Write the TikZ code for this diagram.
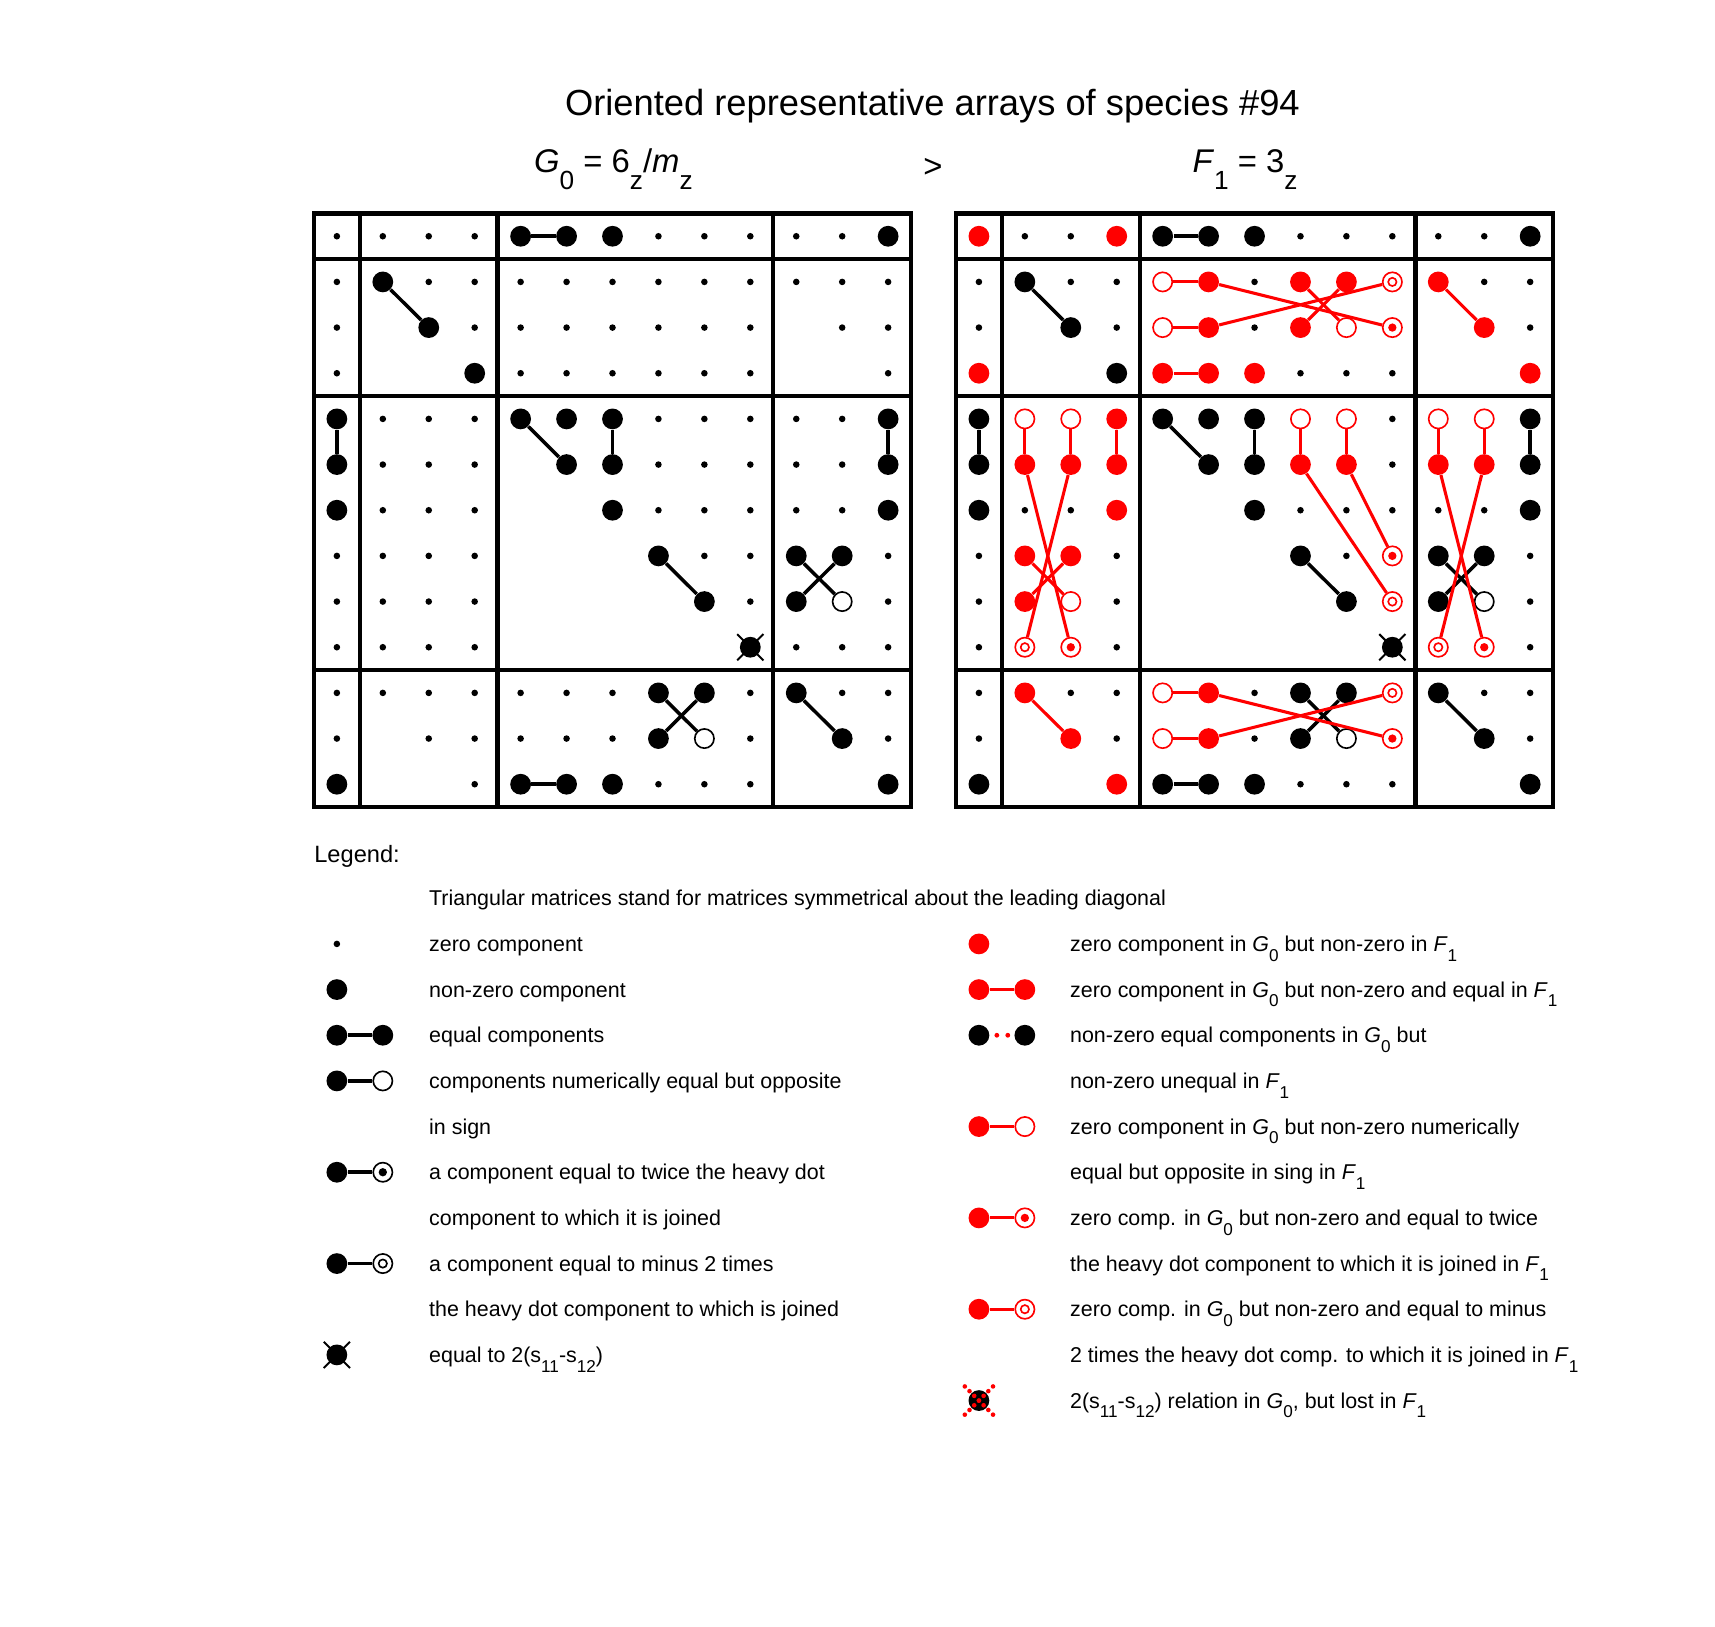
\documentclass[tikz,border=0pt]{standalone}
\usepackage{fontspec}
\setmainfont{Liberation Sans}
\usepackage{tikz}

\newcommand{\lo}[1]{\raisebox{-0.45em}{\scalebox{0.8}{#1}}}
\newcommand{\lob}[1]{\raisebox{-0.5em}{\scalebox{0.8}{#1}}}
\newcommand{\titlefont}{\fontsize{16.6}{20}\selectfont}
\newcommand{\subfont}{\fontsize{15}{18}\selectfont}
\newcommand{\keyfont}{\fontsize{9.8}{12}\selectfont}
\newcommand{\headfont}{\fontsize{10.8}{13}\selectfont}
\newcommand{\xmark}[1]{\draw[line width=0.9pt] ([shift={(-6pt,-6pt)}]#1.center) -- ([shift={(6pt,6pt)}]#1.center)
  ([shift={(-6pt,6pt)}]#1.center) -- ([shift={(6pt,-6pt)}]#1.center);}

\tikzset{
  zero/.style={circle, fill, inner sep=0pt, minimum size=3pt},
  nz/.style={circle, fill, inner sep=0pt, minimum size=9.5pt},
  nzred/.style={nz, fill=red},
  opp/.style={circle, draw=#1, fill=white, line width=0.75pt, inner sep=0pt, minimum size=8.8pt},
  opp/.default=black,
  twice/.style={opp=#1, path picture={\fill[#1] (path picture bounding box.center) circle (1.9pt);}},
  twice/.default=black,
  minustwo/.style={opp=#1, path picture={\draw[#1, line width=0.75pt] (path picture bounding box.center) circle (1.9pt);}},
  minustwo/.default=black,
  link/.style={line width=1.6pt},
  linkred/.style={line width=1.4pt, red},
  linkdot/.style={red, line width=2.2pt, line cap=round, dash pattern=on 0pt off 5pt, shorten <=3.25pt, shorten >=2.5pt},
  gridline/.style={line width=2pt},
  cells/.style={shift={(#1,216)}, x=21pt, y=-20.875pt},
  txt/.style={inner sep=0pt, anchor=base west, font=\keyfont},
}

\begin{document}
\begin{tikzpicture}[x=0.5pt, y=-0.5pt]
\useasboundingbox (0,0) rectangle (1568,1487);

\node[txt, anchor=base, font=\titlefont] (title) at (852.5,106) {Oriented representative arrays of species \#94};
\node[txt, font=\subfont] (g0) at (488,158) {\textit{G}\lob{0} = 6\lob{z}/\textit{m}\lob{z}};
\node[txt, anchor=base, font=\subfont] (gt) at (853,162) {>};
\node[txt, font=\subfont] (f1) at (1090,158) {\textit{F}\lob{1} = 3\lob{z}};

\foreach \m/\x in {L/308, R/895} {
  \begin{scope}[cells=\x]
    \draw[gridline] (-0.5,-0.5) rectangle (12.5,12.5);
    \foreach \k in {0.5,3.5,9.5} {
      \draw[gridline] (\k,-0.5) -- (\k,12.5);
      \draw[gridline] (-0.5,\k) -- (12.5,\k);
    }
    \foreach \r/\cs in {0/{4,5,6,12}, 1/{1}, 2/{2}, 3/{3}, 4/{0,4,5,6,12}, 5/{0,5,6,12}, 6/{0,6,12},
        7/{7,10,11}, 8/{8,10}, 9/{9}, 10/{7,8,10}, 11/{7,11}, 12/{0,4,5,6,12}}
      \foreach \c in \cs \node[nz] (\m-\r-\c) at (\c,\r) {};
    \node[opp] (\m-8-11) at (11,8) {};
    \node[opp] (\m-11-8) at (8,11) {};
  \end{scope}
  \foreach \a/\b in {0-4/0-5, 1-1/2-2, 4-0/5-0, 4-4/5-5, 4-6/5-6, 4-12/5-12, 7-7/8-8, 7-10/8-11,
      7-11/8-10, 10-7/11-8, 10-8/11-7, 10-10/11-11, 12-4/12-5}
    \draw[link] (\m-\a) -- (\m-\b);
  \xmark{\m-9-9}
}

\begin{scope}[cells=308]
  \foreach \r/\cs in {0/{0,1,2,3,7,8,9,10,11}, 1/{0,2,3,4,5,6,7,8,9,10,11,12}, 2/{0,3,4,5,6,7,8,9,11,12},
      3/{0,4,5,6,7,8,9,12}, 4/{1,2,3,7,8,9,10,11}, 5/{1,2,3,7,8,9,10,11}, 6/{1,2,3,7,8,9,10,11},
      7/{0,1,2,3,8,9,12}, 8/{0,1,2,3,9,12}, 9/{0,1,2,3,10,11,12}, 10/{0,1,2,3,4,5,6,9,11,12},
      11/{0,2,3,4,5,6,9,12}, 12/{3,7,8,9}}
    \foreach \c in \cs \node[zero] (L-\r-\c) at (\c,\r) {};
\end{scope}

\begin{scope}[cells=895]
  \foreach \r/\cs in {0/{1,2,7,8,9,10,11}, 1/{0,2,3,6,11,12}, 2/{0,3,6,12}, 3/{7,8,9}, 4/{9}, 5/{9},
      6/{1,2,7,8,9,10,11}, 7/{0,3,8,12}, 8/{0,3,12}, 9/{0,3,12}, 10/{0,2,3,6,11,12}, 11/{0,3,6,12}, 12/{7,8,9}}
    \foreach \c in \cs \node[zero] (R-\r-\c) at (\c,\r) {};
  \foreach \r/\cs in {0/{0,3}, 1/{5,7,8,10}, 2/{5,7,11}, 3/{0,4,5,6,12}, 4/{3}, 5/{1,2,3,7,8,10,11},
      6/{3}, 7/{1,2}, 8/{1}, 10/{1,5}, 11/{2,5}, 12/{3}}
    \foreach \c in \cs \node[nzred] (R-\r-\c) at (\c,\r) {};
  \foreach \r/\c in {1/4, 2/4, 2/8, 4/1, 4/2, 4/7, 4/8, 4/10, 4/11, 8/2, 10/4, 11/4}
    \node[opp=red] (R-\r-\c) at (\c,\r) {};
  \foreach \r/\c in {2/9, 7/9, 9/2, 9/11, 11/9}
    \node[twice=red] (R-\r-\c) at (\c,\r) {};
  \foreach \r/\c in {1/9, 8/9, 9/1, 9/10, 10/9}
    \node[minustwo=red] (R-\r-\c) at (\c,\r) {};
\end{scope}

\foreach \a/\b in {1-4/1-5, 2-4/2-5, 1-5/2-9, 2-5/1-9, 1-7/2-8, 2-7/1-8, 1-10/2-11, 3-4/3-5,
    4-1/5-1, 4-2/5-2, 4-3/5-3, 4-7/5-7, 4-8/5-8, 4-10/5-10, 4-11/5-11, 5-1/9-2, 5-2/9-1,
    7-1/8-2, 7-2/8-1, 5-7/8-9, 5-8/7-9, 5-10/9-11, 5-11/9-10, 10-1/11-2, 10-4/10-5,
    11-4/11-5, 10-5/11-9, 11-5/10-9}
  \draw[linkred] (R-\a) -- (R-\b);

\node[txt, font=\headfont] (legend) at (287,789) {Legend:};

\node[zero] (k-zero) at (308,863) {};
\node[nz] (k-nz) at (308,904.75) {};
\node[nz] (k-eq1) at (308,946.5) {};
\node[nz] (k-eq2) at (350,946.5) {};
\node[nz] (k-op1) at (308,988.25) {};
\node[opp] (k-op2) at (350,988.25) {};
\node[nz] (k-tw1) at (308,1071.75) {};
\node[twice] (k-tw2) at (350,1071.75) {};
\node[nz] (k-mt1) at (308,1155.25) {};
\node[minustwo] (k-mt2) at (350,1155.25) {};
\node[nz] (k-x) at (308,1238.75) {};
\xmark{k-x}
\foreach \a/\b in {eq1/eq2, op1/op2, tw1/tw2, mt1/mt2}
  \draw[link] (k-\a) -- (k-\b);

\node[nzred] (r-nz) at (895,863) {};
\node[nzred] (r-eq1) at (895,904.75) {};
\node[nzred] (r-eq2) at (937,904.75) {};
\node[nz] (r-ne1) at (895,946.5) {};
\node[nz] (r-ne2) at (937,946.5) {};
\node[nzred] (r-op1) at (895,1030) {};
\node[opp=red] (r-op2) at (937,1030) {};
\node[nzred] (r-tw1) at (895,1113.5) {};
\node[twice=red] (r-tw2) at (937,1113.5) {};
\node[nzred] (r-mt1) at (895,1197) {};
\node[minustwo=red] (r-mt2) at (937,1197) {};
\node[nz] (r-lost) at (895,1280.5) {};
\foreach \k in {-3,...,3} {
  \fill[red] ([shift={(\k*2.15pt,\k*2.15pt)}]r-lost.center) circle (1.05pt);
  \fill[red] ([shift={(\k*2.15pt,\k*-2.15pt)}]r-lost.center) circle (1.05pt);
}
\foreach \a/\b in {eq1/eq2, op1/op2, tw1/tw2, mt1/mt2}
  \draw[linkred] (r-\a) -- (r-\b);
\draw[linkdot] (r-ne1) -- (r-ne2);

\foreach \y/\t [count=\n] in {821.25/{Triangular matrices stand for matrices symmetrical about the leading diagonal},
    863/{zero component}, 904.75/{non-zero component}, 946.5/{equal components},
    988.25/{components numerically equal but opposite}, 1030/{in sign},
    1071.75/{a component equal to twice the heavy dot}, 1113.5/{component to which it is joined},
    1155.25/{a component equal to minus 2 times}, 1197/{the heavy dot component to which is joined},
    1238.75/{equal to 2(s\lo{11}-s\lo{12})}}
  \node[txt] (key-l\n) at (392,\y+7) {\t};

\foreach \y/\t [count=\n] in {863/{zero component in \textit{G}\lo{0} but non-zero in \textit{F}\lo{1}},
    904.75/{zero component in \textit{G}\lo{0} but non-zero and equal in \textit{F}\lo{1}},
    946.5/{non-zero equal components in \textit{G}\lo{0} but},
    988.25/{non-zero unequal in \textit{F}\lo{1}},
    1030/{zero component in \textit{G}\lo{0} but non-zero numerically},
    1071.75/{equal but opposite in sing in \textit{F}\lo{1}},
    1113.5/{zero comp. in \textit{G}\lo{0} but non-zero and equal to twice},
    1155.25/{the heavy dot component to which it is joined in \textit{F}\lo{1}},
    1197/{zero comp. in \textit{G}\lo{0} but non-zero and equal to minus},
    1238.75/{2 times the heavy dot comp. to which it is joined in \textit{F}\lo{1}},
    1280.5/{2(s\lo{11}-s\lo{12}) relation in \textit{G}\lo{0}, but lost in \textit{F}\lo{1}}}
  \node[txt] (key-r\n) at (978,\y+7) {\t};
\end{tikzpicture}
\end{document}
